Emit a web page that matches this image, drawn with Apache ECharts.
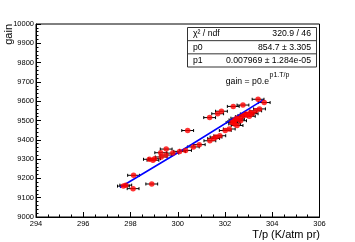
<!DOCTYPE html>
<html>
<head>
<meta charset="utf-8">
<script src="https://cdn.jsdelivr.net/npm/echarts@6/dist/echarts.min.js"></script>
<style>
html,body{margin:0;padding:0;background:#fff;}
#c{width:355px;height:242px;}
</style>
</head>
<body>
<div id="c"></div>
<script>
// ---- data ----
const tpValues = [297.70,297.80,298.13,298.11,298.90,298.80,298.95,299.02,299.28,299.51,299.50,299.30,299.79,300.08,300.33,300.42,300.66,300.91,301.35,301.69,301.85,301.36,301.52,301.62,301.78,302.01,302.18,302.35,302.76,303.40,303.66,302.37,302.41,302.51,302.42,302.57,302.66,302.69,302.80,302.90,303.03,303.08,303.30,303.46,302.95,302.50,302.30,303.15];
const gainValues = [9160,9165,9216,9147,9171,9299,9294,9302,9333,9352,9321,9311,9331,9340,9345,9448,9363,9375,9515,9535,9548,9395,9407,9414,9421,9448,9456,9573,9580,9610,9593,9494,9482,9474,9503,9507,9499,9520,9526,9534,9522,9541,9550,9560,9530,9512,9490,9535];
const tpErrors = [0.25,0.25,0.25,0.25,0.25,0.25,0.25,0.25,0.25,0.25,0.25,0.25,0.25,0.25,0.25,0.25,0.25,0.25,0.25,0.25,0.25,0.25,0.25,0.25,0.25,0.25,0.25,0.25,0.25,0.25,0.25,0.25,0.25,0.25,0.25,0.25,0.25,0.25,0.25,0.25,0.25,0.25,0.25,0.25,0.25,0.25,0.25,0.25];
const fitX = [297.55, 300.60, 303.62];
const fitY = [9153, 9377, 9607];
const xTicks = [294, 296, 298, 300, 302, 304, 306];
const yTicks = [9000, 9100, 9200, 9300, 9400, 9500, 9600, 9700, 9800, 9900, 10000];
const statRows = [["χ² / ndf", "320.9 / 46"], ["p0", "854.7 ± 3.305"], ["p1", "0.007969 ± 1.284e-05"]];
const fitFormula = "gain = p0.e";
const fitFormulaSup = "p1.T/p";
const xTitle = "T/p (K/atm pr)";
const yTitle = "gain";

const FONT = "'Liberation Sans', Arial, sans-serif";
const chart = echarts.init(document.getElementById('c'), null, {renderer: 'canvas'});

const pts = tpValues.map((x, i) => [x, gainValues[i], tpErrors[i]]);
const fitLine = fitX.map((x, i) => [x, fitY[i]]);

const L = 36, T = 24, R = 319.5, B = 217;

const graphics = [];
// stats box
const bx = 187.5, by = 27.5, bw = 129, bh = 39.5;
graphics.push({type: 'rect', shape: {x: bx, y: by, width: bw, height: bh}, style: {fill: '#fff', stroke: '#333', lineWidth: 1}, z: 10});
graphics.push({type: 'line', shape: {x1: bx, y1: by + bh/3, x2: bx + bw, y2: by + bh/3}, style: {stroke: '#333', lineWidth: 1}, z: 10});
graphics.push({type: 'line', shape: {x1: bx, y1: by + 2*bh/3, x2: bx + bw, y2: by + 2*bh/3}, style: {stroke: '#333', lineWidth: 1}, z: 10});
statRows.forEach((r, i) => {
  const cy = by + bh/6 + i * bh/3;
  graphics.push({type: 'text', x: 193, y: cy, style: {text: r[0], font: '8.7px ' + FONT, fill: '#000', align: 'left', verticalAlign: 'middle'}, z: 11});
  graphics.push({type: 'text', x: 311, y: cy, style: {text: r[1], font: '8.7px ' + FONT, fill: '#000', align: 'right', verticalAlign: 'middle'}, z: 11});
});
// formula
graphics.push({type: 'text', x: 269, y: 81.5, style: {text: fitFormula, font: '8.7px ' + FONT, fill: '#000', align: 'right', verticalAlign: 'middle'}, z: 11});
graphics.push({type: 'text', x: 269.5, y: 75.5, style: {text: fitFormulaSup, font: '7px ' + FONT, fill: '#000', align: 'left', verticalAlign: 'middle'}, z: 11});
// axis titles
graphics.push({type: 'text', x: 320, y: 235, style: {text: xTitle, font: '11px ' + FONT, fill: '#000', align: 'right', verticalAlign: 'middle'}, z: 11});
graphics.push({type: 'text', x: 9, y: 24, rotation: Math.PI/2, style: {text: yTitle, font: '11px ' + FONT, fill: '#000', align: 'right', verticalAlign: 'middle'}, z: 11});

chart.setOption({
  animation: false,
  backgroundColor: '#fff',
  grid: {left: L, top: T, width: R - L, height: B - T, show: true, borderColor: '#000', borderWidth: 1, backgroundColor: 'transparent'},
  xAxis: {
    type: 'value', min: xTicks[0], max: xTicks[xTicks.length-1], interval: 2,
    axisLine: {show: true, onZero: false, lineStyle: {color: '#000', width: 1}},
    axisTick: {show: true, inside: true, length: 5, lineStyle: {color: '#000'}},
    minorTick: {show: true, splitNumber: 4, length: 2.5, lineStyle: {color: '#000'}},
    splitLine: {show: false},
    axisLabel: {fontSize: 7.5, fontFamily: FONT, color: '#000', margin: 3, showMinLabel: true, showMaxLabel: true, formatter: v => String(v)}
  },
  yAxis: {
    type: 'value', min: yTicks[0], max: yTicks[yTicks.length-1], interval: 100,
    axisLine: {show: true, onZero: false, lineStyle: {color: '#000', width: 1}},
    axisTick: {show: true, inside: true, length: 5, lineStyle: {color: '#000'}},
    minorTick: {show: true, splitNumber: 5, length: 2.5, lineStyle: {color: '#000'}},
    splitLine: {show: false},
    axisLabel: {fontSize: 7.5, fontFamily: FONT, color: '#000', margin: 2, showMinLabel: true, showMaxLabel: true, formatter: v => String(v)}
  },
  series: [
    {
      type: 'custom', name: 'errors', data: pts, z: 2,
      renderItem: function (params, api) {
        const x = api.value(0), y = api.value(1), e = api.value(2);
        const a = api.coord([x - e, y]), b = api.coord([x + e, y]);
        const st = {stroke: '#000', lineWidth: 1};
        return {type: 'group', children: [
          {type: 'line', shape: {x1: a[0], y1: a[1], x2: b[0], y2: b[1]}, style: st},
          {type: 'line', shape: {x1: a[0], y1: a[1] - 1.5, x2: a[0], y2: a[1] + 1.5}, style: st},
          {type: 'line', shape: {x1: b[0], y1: b[1] - 1.5, x2: b[0], y2: b[1] + 1.5}, style: st}
        ]};
      }
    },
    {
      type: 'line', name: 'fit', data: fitLine, showSymbol: false, symbol: 'none', smooth: false, z: 3,
      lineStyle: {color: '#0000ff', width: 1.6}
    },
    {
      type: 'scatter', name: 'gain', data: pts.map(p => [p[0], p[1]]), symbol: 'circle', symbolSize: 5.5, z: 4,
      itemStyle: {color: '#ff0000'}
    }
  ],
  graphic: graphics
});
</script>
</body>
</html>
